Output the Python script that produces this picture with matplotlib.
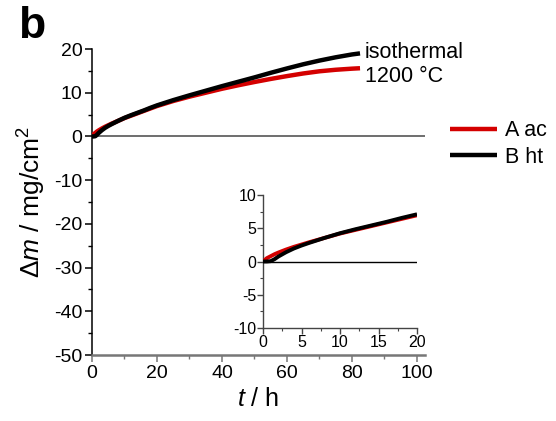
import matplotlib
matplotlib.use("Agg")
import matplotlib.pyplot as plt
from matplotlib.ticker import MultipleLocator

plt.rcParams['font.family'] = ['Liberation Sans', 'DejaVu Sans']
plt.rcParams['mathtext.fontset'] = 'custom'
plt.rcParams['mathtext.rm'] = 'Liberation Sans'
plt.rcParams['mathtext.it'] = 'Liberation Sans:italic'
plt.rcParams['axes.unicode_minus'] = False

# Mass change during isothermal oxidation at 1200 °C
t_h = [0, 0.5, 1, 1.5, 2, 3, 4, 5, 6, 8, 10, 12, 14, 16, 18, 20, 25, 30, 35, 40,
       45, 50, 55, 60, 65, 70, 75, 80, 82.5]
dm_A_ac = [0, 0.5, 0.8, 1.1, 1.35, 1.8, 2.2, 2.55, 2.9, 3.55, 4.2, 4.75, 5.3, 5.85,
           6.4, 6.95, 8.1, 9.1, 10.0, 10.9, 11.7, 12.45, 13.15, 13.8, 14.4, 14.9,
           15.25, 15.5, 15.6]
dm_B_ht = [0, 0, 0.05, 0.35, 0.75, 1.4, 1.95, 2.4, 2.8, 3.55, 4.25, 4.85, 5.4,
           5.95, 6.55, 7.1, 8.3, 9.4, 10.45, 11.5, 12.5, 13.5, 14.55, 15.55,
           16.5, 17.35, 18.1, 18.75, 19.0]

series_labels = ['A ac', 'B ht']
series_colors = ['#d40000', '#000000']

main_xticks = [0, 20, 40, 60, 80, 100]
main_yticks = [-50, -40, -30, -20, -10, 0, 10, 20]
inset_xticks = [0, 5, 10, 15, 20]
inset_yticks = [-10, -5, 0, 5, 10]

W, H = 556, 421
fig = plt.figure(figsize=(W / 100, H / 100), dpi=100)

def frac(x0, y0, x1, y1):
    return [x0 / W, 1 - y1 / H, (x1 - x0) / W, (y1 - y0) / H]

ax = fig.add_axes(frac(92, 49, 425, 355))
for y, c, lab in zip([dm_A_ac, dm_B_ht], series_colors, series_labels):
    ax.plot(t_h, y, color=c, lw=3.2, label=lab, solid_capstyle='butt', zorder=3)
ax.axhline(0, color='#555555', lw=1.2, zorder=2)
ax.set_xlim(0, 102.5)
ax.set_ylim(-50, 20)
ax.set_xticks(main_xticks)
ax.set_yticks(main_yticks)
ax.xaxis.set_minor_locator(MultipleLocator(10))
ax.yaxis.set_minor_locator(MultipleLocator(5))
for s in ['top', 'right']:
    ax.spines[s].set_visible(False)
ax.spines['left'].set_linewidth(1.1)
ax.spines['bottom'].set_linewidth(1.8)
ax.spines['bottom'].set_color('#777777')
ax.tick_params(which='major', direction='out', length=5, width=1.1, labelsize=14, pad=2)
ax.tick_params(which='minor', direction='out', length=3, width=1.0)
ax.tick_params(axis='x', which='both', color='#777777', labelcolor='black')
ax.set_xlabel(r'$\mathit{t}$ / h', fontsize=18, labelpad=4)
ax.set_ylabel(r'Δ$\mathit{m}$ / mg/cm$^2$', fontsize=19, labelpad=4)

ax.text(84, 19.3, 'isothermal', fontsize=15.5, va='center', ha='left')
ax.text(84, 13.6, '1200 °C', fontsize=15.5, va='center', ha='left')

fig.text(18 / W, 1 - 26 / H, 'b', fontsize=32, fontweight='bold', va='center', ha='left')

handles, labels = ax.get_legend_handles_labels()
fig.legend(handles, labels, loc='center left', bbox_to_anchor=(450 / W, 1 - 144 / H),
           frameon=False, fontsize=15.5, handlelength=2.2, handletextpad=0.35,
           labelspacing=0.25, borderaxespad=0, borderpad=0)

# Inset: first 20 hours
ins = fig.add_axes(frac(263, 195, 417, 328))
n = sum(1 for v in t_h if v <= 20)
for y, c in zip([dm_A_ac, dm_B_ht], series_colors):
    ins.plot(t_h[:n], y[:n], color=c, lw=2.8, solid_capstyle='butt', zorder=3)
ins.axhline(0, color='black', lw=1.0, zorder=2)
ins.set_xlim(0, 20)
ins.set_ylim(-10, 10)
ins.set_xticks(inset_xticks)
ins.set_yticks(inset_yticks)
ins.xaxis.set_minor_locator(MultipleLocator(2.5))
ins.yaxis.set_minor_locator(MultipleLocator(2.5))
for s in ['top', 'right']:
    ins.spines[s].set_visible(False)
for s in ['left', 'bottom']:
    ins.spines[s].set_linewidth(1.0)
    ins.spines[s].set_color('#444444')
ins.tick_params(which='major', direction='out', length=4, width=1.0, labelsize=11.5, pad=1, color='#444444')
ins.tick_params(which='minor', direction='out', length=2.5, width=0.8, color='#444444')

fig.savefig('out.png', dpi=100)
